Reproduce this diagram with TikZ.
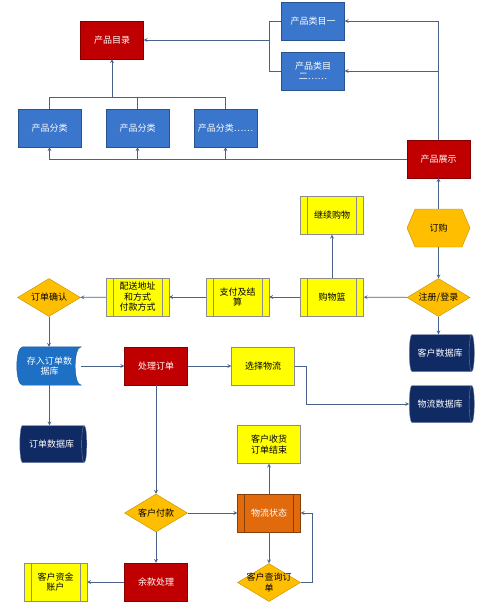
\documentclass[tikz,border=0pt]{standalone}
\usepackage{fontspec}
\usepackage{tikz}
\usetikzlibrary{shapes.geometric, shapes.symbols, positioning, backgrounds}
\newfontfamily\cjk{Noto Sans CJK SC}
\definecolor{catblue}{RGB}{58,118,204}
\definecolor{storeblue}{RGB}{30,112,196}
\definecolor{deepred}{RGB}{192,0,0}
\definecolor{hiyellow}{RGB}{255,255,0}
\definecolor{gold}{RGB}{255,190,0}
\definecolor{rust}{RGB}{224,106,12}
\definecolor{navy}{RGB}{16,42,100}
\definecolor{linegray}{RGB}{72,98,138}

\begin{document}
\begin{tikzpicture}[x=1pt, y=-1pt,
  base/.style={minimum width=63pt, minimum height=38pt, inner sep=1pt, align=center,
               font=\cjk\fontsize{9}{10.5}\selectfont},
  box/.style={base, rectangle, draw=catblue!70!black, fill=catblue, text=white},
  redbox/.style={base, rectangle, draw=deepred!70!black, fill=deepred, text=white},
  ybox/.style={base, rectangle, draw=black!45, fill=hiyellow},
  yproc/.style={base, rectangle, draw=black!45, fill=hiyellow,
              path picture={\draw[black!45]
                ([xshift=7pt]path picture bounding box.north west) -- ([xshift=7pt]path picture bounding box.south west)
                ([xshift=-7pt]path picture bounding box.north east) -- ([xshift=-7pt]path picture bounding box.south east);}},
  oproc/.style={base, rectangle, draw=rust!60!black, fill=rust, text=white,
              path picture={\draw[rust!60!black]
                ([xshift=7pt]path picture bounding box.north west) -- ([xshift=7pt]path picture bounding box.south west)
                ([xshift=-7pt]path picture bounding box.north east) -- ([xshift=-7pt]path picture bounding box.south east);}},
  choice/.style={base, diamond, aspect=1.66, inner sep=0pt, draw=gold!75!black, fill=gold},
  hexa/.style={base, signal, signal to=west and east, signal pointer angle=134,
               draw=gold!75!black, fill=gold},
  db/.style={base, cylinder, aspect=0.5, minimum width=37pt, minimum height=65pt,
             draw=navy!60!white, fill=navy, text=white},
  arrow/.style={-stealth, draw=linegray, line width=0.7pt},
  link/.style={draw=linegray, line width=0.7pt}]

\useasboundingbox (0,0) rectangle (488,610);

\node[redbox] (cat) at (112,40) {产品目录};
\node[box] (c1) at (313,21) {产品类目一};
\node[box] (c2) at (313,71) {产品类目\\二……};
\node[box] (f1) at (49.5,128) {产品分类};
\node[box] (f2) at (137.5,128) {产品分类};
\node[box] (f3) at (225.5,128) {产品分类……};
\node[redbox] (show) at (438.5,159) {产品展示};

\node[yproc] (cont) at (332,215.5) {继续购物};
\node[hexa] (buy) at (438.5,228) {订购};
\node[choice] (login) at (438.5,297.5) {注册/登录};
\node[yproc] (basket) at (332,297) {购物篮};
\node[yproc] (pay) at (237.5,297) {支付及结\\算};
\node[yproc] (addr) at (137.5,297) {配送地址\\和方式\\付款方式};
\node[choice] (confirm) at (49,297.5) {订单确认};

\node[db] (custdb) at (440,353) {客户数据库};
\node[db] (logdb) at (440,404) {物流数据库};
\node[base, text=white] (store) at (49.5,366) {存入订单数\\据库};
\node[redbox] (handle) at (156,366) {处理订单};
\node[ybox] (logi) at (263,366) {选择物流};
\node[db, minimum height=67pt] (orderdb) at (51.5,444) {订单数据库};
\node[ybox] (recv) at (269,444.5) {客户收货\\订单结束};

\node[choice] (payc) at (156,513) {客户付款};
\node[oproc] (state) at (269,513) {物流状态};
\node[choice] (query) at (269,582.5) {\makebox[0pt]{客户查询订}\\\makebox[0pt]{单}};
\node[redbox] (rest) at (156,582) {余款处理};
\node[yproc] (acct) at (55.5,582) {客户资金\\账户};

\begin{scope}[on background layer]
\filldraw[fill=storeblue, draw=storeblue!80!black]
  ([xshift=5pt]store.north west) -- (store.north east)
  .. controls ([xshift=-8pt]store.north east) and ([xshift=-8pt]store.south east) .. (store.south east)
  -- ([xshift=5pt]store.south west)
  .. controls ([xshift=-3pt]store.south west) and ([xshift=-3pt]store.north west) .. cycle;
\end{scope}

\coordinate (j1) at (269,40);
\coordinate (j2) at (112,97);

\draw[arrow] (c1.west) -| (j1) -- (cat.east);
\draw[link] (c2.west) -| (j1);
\draw[arrow] (show.north) |- (c1.east);
\draw[arrow] (show.north) |- (c2.east);
\draw[link] (f1.north) |- (j2);
\draw[link] (f3.north) |- (j2);
\draw[arrow] (f2.north) |- (j2) -- (cat.south);
\draw[arrow] (show.west) -| (f1.south);
\draw[arrow] (show.west) -| (f2.south);
\draw[arrow] (show.west) -| (f3.south);

\draw[arrow] (buy) -- (show);
\draw[arrow] (buy) -- (login);
\draw[arrow] (login) -- (basket);
\draw[arrow] (basket) -- (cont);
\draw[arrow] (basket) -- (pay);
\draw[arrow] (pay) -- (addr);
\draw[arrow] (addr) -- (confirm);
\draw[arrow] (login.south) -- (login.south |- custdb.north);
\draw[arrow] (confirm.south) -- (confirm.south |- store.north);

\draw[arrow] (store.east) -- (handle.west);
\draw[arrow] (handle) -- (logi);
\draw[arrow] (logi.east) -- ++(12,0) |- (logdb.west);
\draw[arrow] (store.south) -- (store.south |- orderdb.north);
\draw[arrow] (handle) -- (payc);

\draw[arrow] (payc) -- (state);
\draw[arrow] (state) -- (recv);
\draw[arrow] (state) -- (query);
\draw[arrow] (query.east) -- ++(12,0) |- (state.east);
\draw[arrow] (payc) -- (rest);
\draw[arrow] (rest) -- (acct);
\end{tikzpicture}
\end{document}
